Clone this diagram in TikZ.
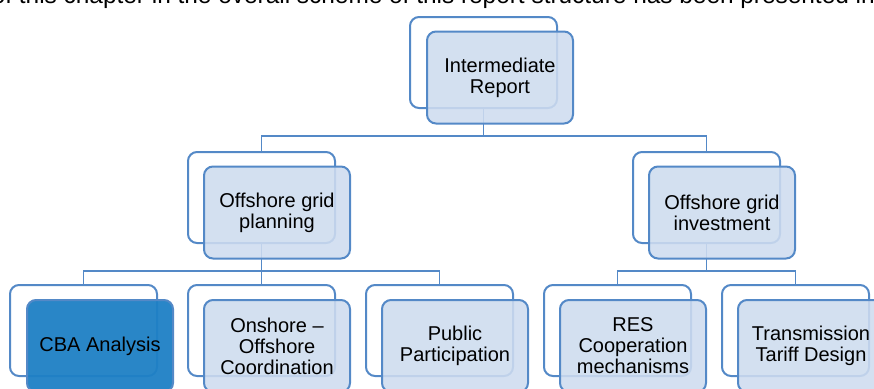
\documentclass[tikz,border=0pt]{standalone}
\usepackage{fontspec}
\setmainfont{Liberation Sans}
\usetikzlibrary{positioning}
\pgfdeclarelayer{background}
\pgfsetlayers{background,main}

\definecolor{edgeblue}{RGB}{84,137,199}
\definecolor{paleblue}{RGB}{206,220,239}
\definecolor{strongblue}{RGB}{30,128,197}

\tikzset{
  backframe/.style={draw=edgeblue, line width=2pt, fill=white, rounded corners=9pt,
    minimum width=147pt, minimum height=91pt, anchor=north west, inner sep=0pt},
  frontbox/.style={draw=edgeblue, line width=2pt, fill=paleblue, fill opacity=0.88,
    text opacity=1, rounded corners=9pt, minimum width=146pt, minimum height=92pt,
    anchor=north west, inner sep=0pt, align=center,
    font=\fontsize{20}{21}\selectfont, text=black},
  highlight/.style={fill=strongblue, fill opacity=0.95},
  link/.style={draw=edgeblue, line width=1.6pt},
}

\begin{document}
\begin{tikzpicture}[x=1pt, y=1pt]
  \useasboundingbox (0,0) rectangle (874,-388);
  \clip (0,0) rectangle (874,-388);

  % running text of the surrounding page
  \node[anchor=base east, inner sep=0pt, font=\fontsize{24.4}{26}\selectfont] (intro) at (875,-4)
    {of this chapter in the overall scheme of this report structure has been presented in};

  % level 1
  \node[backframe] (ir-b) at (409,-16) {};
  \node[frontbox]  (ir)   at (426,-30.5) {Intermediate\\Report};

  % level 2
  \node[backframe] (gp-b) at (187,-151) {};
  \node[frontbox]  (gp)   at (203,-165.5) {Offshore grid\\planning};
  \node[backframe] (gi-b) at (632,-151) {};
  \node[frontbox]  (gi)   at (648,-165.5) {Offshore grid\\investment};

  % level 3
  \node[backframe] (cba-b) at (9,-284) {};
  \node[frontbox, highlight] (cba) at (26,-299) {CBA Analysis};
  \node[backframe] (onoff-b) at (187,-284) {};
  \node[frontbox] (onoff) at (203,-299) {Onshore --\\Offshore\\Coordination};
  \node[backframe] (pp-b) at (365,-284) {};
  \node[frontbox] (pp) at (381,-299) {Public\\Participation};
  \node[backframe] (res-b) at (543,-284) {};
  \node[frontbox] (res) at (559,-299) {RES\\Cooperation\\mechanisms};
  \node[backframe] (ttd-b) at (721,-284) {};
  \node[frontbox] (ttd) at (737,-299) {Transmission\\Tariff Design};

  % bus levels of the tree connectors
  \coordinate (bus1) at (0,-136);
  \coordinate (bus2) at (0,-271);

  \begin{pgfonlayer}{background}
    \draw[link] (ir-b.south) -- (ir-b.south |- bus1) -| (gp-b.north);
    \draw[link] (ir-b.south |- bus1) -| (gi-b.north);

    \draw[link] (gp-b.south) -- (gp-b.south |- bus2) -| (cba-b.north);
    \draw[link] (gp-b.south |- bus2) -- (onoff-b.north);
    \draw[link] (gp-b.south |- bus2) -| (pp-b.north);

    \draw[link] (gi-b.south) -- (gi-b.south |- bus2) -| (res-b.north);
    \draw[link] (gi-b.south |- bus2) -| (ttd-b.north);
  \end{pgfonlayer}
\end{tikzpicture}
\end{document}
